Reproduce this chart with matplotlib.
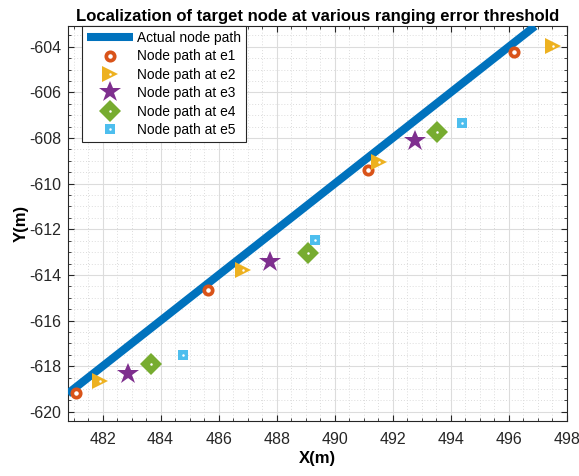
import matplotlib
matplotlib.use("Agg")
import matplotlib.pyplot as plt
from matplotlib.ticker import MultipleLocator
from matplotlib.legend_handler import HandlerTuple

plt.rcParams['font.family'] = ['Liberation Sans', 'DejaVu Sans']
plt.rcParams['axes.unicode_minus'] = False

# Data
path_x = [480.8, 496.9]
path_y = [-619.2, -603.1]

e1_x = [481.1, 485.65, 491.16, 496.18]
e1_y = [-619.17, -614.67, -609.39, -604.25]
e2_x = [481.9, 486.85, 491.51, 497.53]
e2_y = [-618.65, -613.8, -609.06, -603.96]
e3_x = [482.87, 487.78, 492.75]
e3_y = [-618.32, -613.45, -608.11]
e4_x = [483.67, 489.07, 493.53]
e4_y = [-617.91, -613.04, -607.72]
e5_x = [484.76, 489.33, 494.38]
e5_y = [-617.49, -612.49, -607.36]

labels = ["Actual node path", "Node path at e1", "Node path at e2",
          "Node path at e3", "Node path at e4", "Node path at e5"]
xticks = [482, 484, 486, 488, 490, 492, 494, 496, 498]
yticks = [-620, -618, -616, -614, -612, -610, -608, -606, -604]

fig = plt.figure(figsize=(5.79, 4.76), dpi=100)
ax = fig.add_axes([0.117, 0.1155, 0.862, 0.8295])

hl, = ax.plot(path_x, path_y, color='#0072BD', lw=5.8, solid_capstyle='butt', zorder=3)

def dot(x, y):
    h, = ax.plot(x, y, ls='none', marker='o', ms=1.8, color='white', mew=0, zorder=6)
    return h

h1, = ax.plot(e1_x, e1_y, ls='none', marker='o', ms=6.0, mfc='white', mec='#D95319', mew=2.7, zorder=5)
h2, = ax.plot(e2_x, e2_y, ls='none', marker='>', ms=12, color='#EDB120', mew=0, zorder=5)
d2 = dot(e2_x, e2_y)
h3, = ax.plot(e3_x, e3_y, ls='none', marker='*', ms=16.5, color='#7E2F8E', mew=0, zorder=5)
h4, = ax.plot(e4_x, e4_y, ls='none', marker='D', ms=11.5, color='#77AC30', mew=0, zorder=5)
d4 = dot(e4_x, e4_y)
h5, = ax.plot(e5_x, e5_y, ls='none', marker='s', ms=7.2, color='#4DBEEE', mew=0, zorder=5)
d5 = dot(e5_x, e5_y)

ax.set_xlim(480.8, 498.0)
ax.set_ylim(-620.4, -603.1)
ax.set_xticks(xticks)
ax.set_yticks(yticks)
ax.xaxis.set_minor_locator(MultipleLocator(0.5))
ax.yaxis.set_minor_locator(MultipleLocator(0.5))
ax.grid(True, which='major', color='#dcdcdc', lw=0.8)
ax.grid(True, which='minor', color='#dcdcdc', lw=0.7, ls=(0, (1, 2)))
ax.set_axisbelow(True)
ax.tick_params(which='both', direction='in', top=True, right=True, labelsize=11.5, colors='#262626')
ax.tick_params(which='major', length=4)
ax.tick_params(which='minor', length=2)
ax.tick_params(axis='x', which='major', pad=8)
ax.tick_params(axis='y', which='major', pad=4.5)
for s in ax.spines.values():
    s.set_color('#262626')
    s.set_linewidth(0.8)

ax.set_xlabel('X(m)', fontsize=12, fontweight='bold', labelpad=3)
ax.set_ylabel('Y(m)', fontsize=12, fontweight='bold', labelpad=0.5)
ax.set_title('Localization of target node at various ranging error threshold',
             fontsize=12, fontweight='bold', pad=4)

leg = ax.legend([hl, h1, (h2, d2), h3, (h4, d4), (h5, d5)], labels,
                handler_map={tuple: HandlerTuple(ndivide=1, pad=0)},
                loc='upper left', bbox_to_anchor=(0.028, 1.0), borderaxespad=0,
                fontsize=9.9, handlelength=3.4, handletextpad=0.29,
                labelspacing=0.32, borderpad=0.35, fancybox=False,
                framealpha=1, edgecolor='#262626')
leg.get_frame().set_linewidth(0.8)

fig.savefig('out.png', dpi=100)
